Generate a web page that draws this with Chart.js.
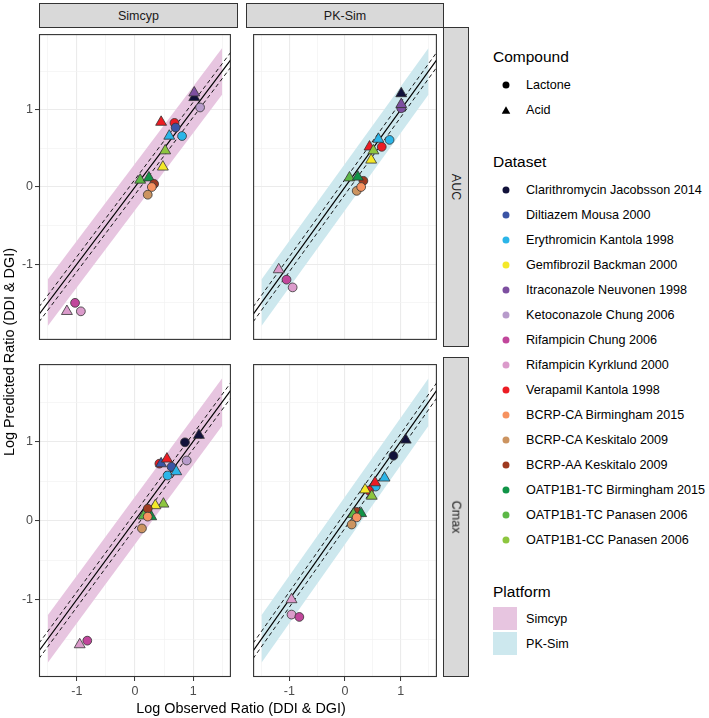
<!DOCTYPE html>
<html>
<head>
<meta charset="utf-8">
<script src="https://cdn.jsdelivr.net/npm/chart.js@4.4.1/dist/chart.umd.min.js"></script>
<style>
  html, body { margin: 0; padding: 0; background: #fff; }
  #wrap { position: relative; width: 709px; height: 718px; overflow: hidden; font-family: "Liberation Sans", Arial, sans-serif; }
  canvas { position: absolute; }
  .strip { position: absolute; box-sizing: border-box; border: 1px solid #333; background: #D9D9D9; color: #1A1A1A; font-size: 12.5px; display: flex; align-items: center; justify-content: center; z-index: 2; }
  .strip span.rot { display: inline-block; transform: rotate(90deg); white-space: nowrap; }
  .title { position: absolute; white-space: nowrap; color: #000; font-size: 14.4px; transform: translate(-50%, -50%); }
  .lg { position: absolute; white-space: nowrap; color: #000; transform: translateY(-50%); }
  .lgt { font-size: 15.5px; }
  .lgi { font-size: 12.6px; }
  .sym { position: absolute; transform: translate(-50%, -50%); }
  .sw { position: absolute; width: 24px; height: 23px; }
</style>
</head>
<body>
<div id="wrap">
  <canvas id="cTL" width="238" height="320" style="left:0px;top:27px"></canvas>
  <canvas id="cTR" width="198" height="320" style="left:246px;top:27px"></canvas>
  <canvas id="cBL" width="238" height="350" style="left:0px;top:357px"></canvas>
  <canvas id="cBR" width="198" height="350" style="left:246px;top:357px"></canvas>

  <div class="strip" style="left:39px;top:3px;width:199px;height:25px">Simcyp</div>
  <div class="strip" style="left:246px;top:3px;width:198px;height:25px">PK-Sim</div>
  <div class="strip" style="left:443px;top:27px;width:26px;height:320px"><span class="rot">AUC</span></div>
  <div class="strip" style="left:443px;top:357px;width:26px;height:320px"><span class="rot">Cmax</span></div>

  <div class="title" style="left:241px;top:708px">Log Observed Ratio (DDI &amp; DGI)</div>
  <div class="title" style="left:9px;top:352px;transform:translate(-50%,-50%) rotate(-90deg)">Log Predicted Ratio (DDI &amp; DGI)</div>

  <div id="legend"></div>
</div>

<script>
// ---------------- data ----------------
const datasetNames = [
  "Clarithromycin Jacobsson 2014",
  "Diltiazem Mousa 2000",
  "Erythromicin Kantola 1998",
  "Gemfibrozil Backman 2000",
  "Itraconazole Neuvonen 1998",
  "Ketoconazole Chung 2006",
  "Rifampicin Chung 2006",
  "Rifampicin Kyrklund 2000",
  "Verapamil Kantola 1998",
  "BCRP-CA Birmingham 2015",
  "BCRP-CA Keskitalo 2009",
  "BCRP-AA Keskitalo 2009",
  "OATP1B1-TC Birmingham 2015",
  "OATP1B1-TC Panasen 2006",
  "OATP1B1-CC Panasen 2006"
];
const datasetColors = [
  "#11113A", "#3B54A5", "#2BB5E8", "#F4E829", "#7D4FA0",
  "#B79BCB", "#C1469B", "#DB9BCB", "#EC1C24", "#F69260",
  "#CC9460", "#9E3A20", "#109447", "#5CB847", "#8DC63F"
];
const compoundNames = ["Lactone", "Acid"];
const platformNames = ["Simcyp", "PK-Sim"];
const platformColors = ["#E7C5E0", "#CDE8EE"];

// [dataset index, compound index (0 Lactone, 1 Acid), log observed, log predicted]
const simcypAUC = [
  [0,1,1.02,1.16],[4,1,1.02,1.22],[5,0,1.12,1.03],
  [8,1,0.45,0.84],[8,0,0.68,0.83],[1,0,0.70,0.77],
  [2,1,0.59,0.66],[2,0,0.81,0.66],[14,1,0.52,0.47],[3,1,0.48,0.26],
  [13,1,0.09,0.09],[12,1,0.24,0.12],[11,0,0.33,0.04],[9,0,0.29,0.00],[10,0,0.22,-0.10],
  [7,1,-1.17,-1.61],[6,0,-1.03,-1.50],[7,0,-0.93,-1.61]
];
const pksimAUC = [
  [4,0,1.01,1.02],[4,1,1.01,1.07],[0,1,1.01,1.21],
  [2,0,0.80,0.61],[8,0,0.66,0.52],[2,1,0.60,0.62],[8,1,0.44,0.52],
  [14,1,0.51,0.47],[3,1,0.47,0.35],
  [11,0,0.33,0.08],[10,0,0.21,-0.05],[9,0,0.29,0.00],[13,1,0.08,0.12],[12,1,0.23,0.13],
  [7,1,-1.19,-1.07],[6,0,-1.05,-1.20],[7,0,-0.94,-1.30]
];
const simcypCmax = [
  [0,1,1.10,1.08],[0,0,0.86,0.99],[5,0,0.89,0.76],
  [8,0,0.42,0.72],[1,1,0.45,0.72],[8,1,0.55,0.78],[1,0,0.63,0.68],
  [2,0,0.56,0.57],[2,1,0.71,0.62],
  [14,1,0.49,0.21],[3,1,0.35,0.19],
  [13,1,0.15,0.06],[12,1,0.28,0.05],[11,0,0.22,0.15],[9,0,0.22,0.05],[10,0,0.12,-0.10],
  [7,1,-0.95,-1.57],[6,0,-0.82,-1.52]
];
const pksimCmax = [
  [0,1,1.09,1.02],[0,0,0.87,0.82],
  [2,1,0.71,0.54],[2,0,0.55,0.43],[8,1,0.54,0.48],
  [8,0,0.43,0.38],[3,1,0.36,0.39],[14,1,0.48,0.31],
  [11,0,0.21,0.11],[13,1,0.15,0.08],[12,1,0.29,0.09],[9,0,0.21,0.04],[10,0,0.12,-0.05],
  [7,1,-0.96,-1.00],[7,0,-0.96,-1.19],[6,0,-0.82,-1.22]
];

const xTicks = [-1.5, -1, -0.5, 0, 0.5, 1, 1.5];
const yTicks = [-1.5, -1, -0.5, 0, 0.5, 1, 1.5];
const majorTicks = [-1, 0, 1];
const xRange = [-1.65, 1.65];
const yRange = [-1.98, 1.98];
const bandX = [-1.5, 1.5];         // 2-fold band extent
const bandHalf = Math.log10(2);     // 2-fold
const dashHalf = Math.log10(1.25);  // 1.25-fold
const lineX = [-1.65, 1.65];

// ---------------- chart ----------------
const FONT = '"Liberation Sans", Arial, sans-serif';
Chart.defaults.font.family = FONT;

const panelBorder = {
  id: 'panelBorder',
  afterDraw(chart) {
    const {ctx, chartArea: a} = chart;
    ctx.save();
    ctx.strokeStyle = '#333333';
    ctx.lineWidth = 1.1;
    ctx.strokeRect(a.left + 0.5, a.top + 0.5, a.right - a.left - 1, a.bottom - a.top - 1);
    ctx.restore();
  }
};

const isMajor = v => majorTicks.some(m => Math.abs(m - v) < 1e-9);

function axisOpts(vals, range, showLabels, horizontal) {
  return {
    type: 'linear',
    min: range[0], max: range[1],
    bounds: 'data',
    afterBuildTicks: s => { s.ticks = vals.map(v => ({value: v})); },
    afterFit: s => {
      if (horizontal) s.height = showLabels ? 30 : 0;
      else s.width = showLabels ? 39 : 0;
      s.paddingLeft = 0; s.paddingRight = 0; s.paddingTop = 0; s.paddingBottom = 0;
    },
    border: { display: false },
    grid: {
      color: c => (c.tick && isMajor(c.tick.value)) ? '#EBEBEB' : '#F2F2F2',
      lineWidth: c => (c.tick && isMajor(c.tick.value)) ? 1.1 : 0.7,
      drawTicks: showLabels,
      tickLength: 4,
      tickColor: c => (c.tick && isMajor(c.tick.value)) ? '#333333' : 'rgba(0,0,0,0)',
      tickWidth: 1
    },
    ticks: {
      display: showLabels,
      autoSkip: false,
      maxRotation: 0,
      padding: horizontal ? 3 : 2,
      color: '#4D4D4D',
      font: { family: FONT, size: 12.5 },
      callback: v => isMajor(v) ? String(Math.round(v)) : ''
    }
  };
}

function makePanel(id, pts, bandColor, showX, showY) {
  const pointData = pts.map(p => ({x: p[2], y: p[3], d: p[0], c: p[1]}));
  const lineDs = (off, dash, width, order) => ({
    data: lineX.map(x => ({x: x, y: x + off})),
    showLine: true, pointRadius: 0, borderColor: '#000000',
    borderWidth: width, borderDash: dash, fill: false, order: order
  });
  new Chart(document.getElementById(id), {
    type: 'scatter',
    data: {
      datasets: [
        {
          data: pointData,
          pointStyle: c => c.raw && c.raw.c === 1 ? 'triangle' : 'circle',
          pointRadius: c => c.raw && c.raw.c === 1 ? 6.3 : 4.4,
          pointBackgroundColor: c => c.raw ? datasetColors[c.raw.d] : '#000',
          pointBorderColor: '#333333',
          pointBorderWidth: 0.8,
          order: 0
        },
        lineDs(0, [], 1.2, 1),
        lineDs(dashHalf, [4, 3], 0.9, 2),
        lineDs(-dashHalf, [4, 3], 0.9, 3),
        {
          data: bandX.map(x => ({x: x, y: x + bandHalf})),
          showLine: true, pointRadius: 0, borderColor: 'rgba(0,0,0,0)',
          fill: false, order: 5
        },
        {
          data: bandX.map(x => ({x: x, y: x - bandHalf})),
          showLine: true, pointRadius: 0, borderColor: 'rgba(0,0,0,0)',
          backgroundColor: bandColor, fill: '-1', order: 4
        }
      ]
    },
    options: {
      responsive: false,
      animation: false,
      events: [],
      devicePixelRatio: 1,
      layout: { padding: 0 },
      plugins: { legend: { display: false }, tooltip: { enabled: false } },
      scales: {
        x: axisOpts(xTicks, xRange, showX, true),
        y: axisOpts(yTicks, yRange, showY, false)
      }
    },
    plugins: [panelBorder]
  });
}

makePanel('cTL', simcypAUC, platformColors[0], false, true);
makePanel('cTR', pksimAUC, platformColors[1], false, false);
makePanel('cBL', simcypCmax, platformColors[0], true, true);
makePanel('cBR', pksimCmax, platformColors[1], true, false);

// ---------------- legend (HTML) ----------------
const lg = document.getElementById('legend');
function addText(txt, x, y, cls) {
  const d = document.createElement('div');
  d.className = 'lg ' + cls;
  d.style.left = x + 'px'; d.style.top = y + 'px';
  d.textContent = txt;
  lg.appendChild(d);
}
function addSym(svg, x, y) {
  const d = document.createElement('div');
  d.className = 'sym';
  d.style.left = x + 'px'; d.style.top = y + 'px';
  d.innerHTML = svg;
  lg.appendChild(d);
}
const circleSvg = col => `<svg width="8" height="8" style="display:block"><circle cx="4" cy="4" r="3.5" fill="${col}"/></svg>`;
const triSvg = col => `<svg width="9" height="8" style="display:block"><polygon points="4.5,0.3 8.8,7.7 0.2,7.7" fill="${col}"/></svg>`;

addText('Compound', 493, 57, 'lgt');
compoundNames.forEach((n, i) => {
  const y = 85 + i * 25;
  addSym(i === 0 ? circleSvg('#000') : triSvg('#000'), 506, y);
  addText(n, 526, y, 'lgi');
});
addText('Dataset', 493, 162, 'lgt');
datasetNames.forEach((n, i) => {
  const y = 190 + i * 25;
  addSym(circleSvg(datasetColors[i]), 506, y);
  addText(n, 526, y, 'lgi');
});
addText('Platform', 493, 592, 'lgt');
platformNames.forEach((n, i) => {
  const y = 607 + i * 25;
  const s = document.createElement('div');
  s.className = 'sw';
  s.style.left = '493px'; s.style.top = y + 'px';
  s.style.background = platformColors[i];
  lg.appendChild(s);
  addText(n, 526, y + 11.5, 'lgi');
});
</script>
</body>
</html>
